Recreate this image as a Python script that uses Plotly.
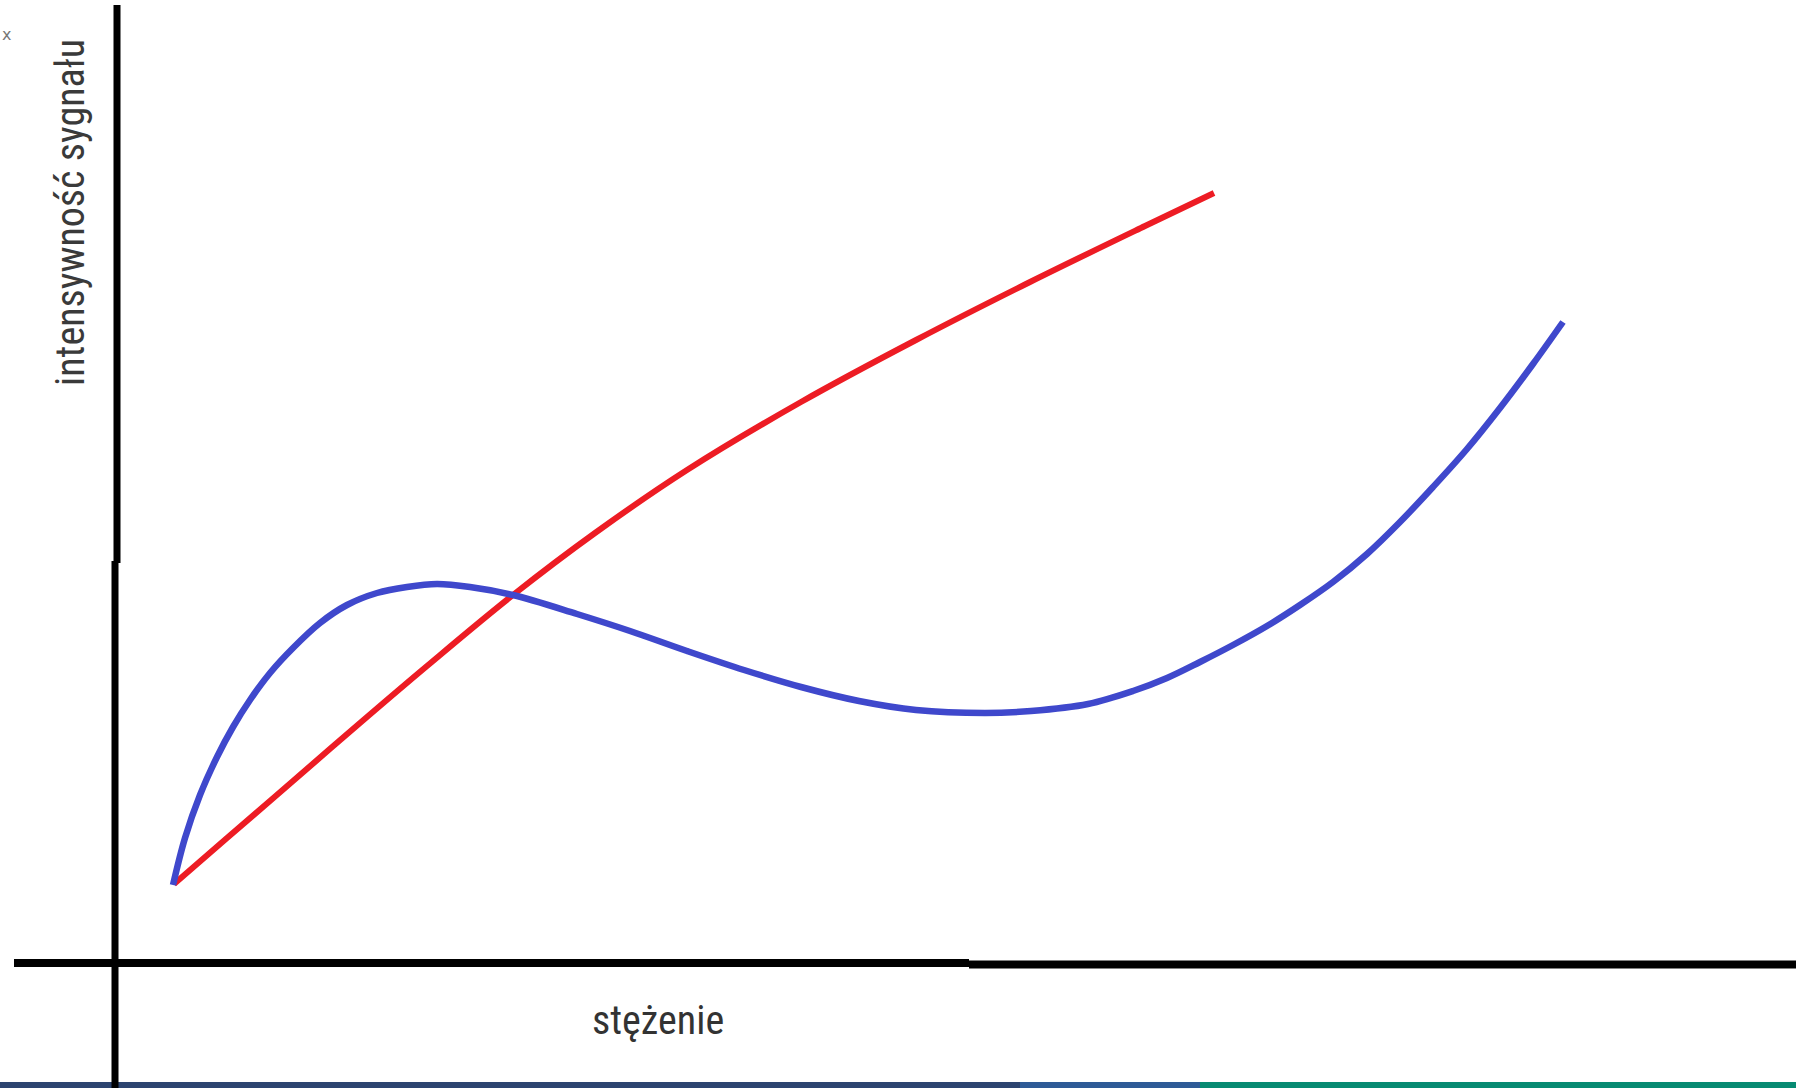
import plotly.graph_objects as go

# Data (arbitrary units: concentration, signal intensity)
red_x = [58, 111, 177, 244, 311, 397, 479, 571, 685, 800, 914, 1029, 1098]
red_y = [79, 125, 182, 240, 297, 368, 430, 493, 561, 623, 681, 737, 770]

blue_x = [57, 69, 84, 101, 117, 134, 154, 177, 204, 231, 261, 291, 321, 354, 397,
          461, 514, 571, 628, 685, 743, 800, 869, 915, 972, 1017, 1051, 1084, 1117,
          1151, 1184, 1217, 1251, 1284, 1317, 1351, 1384, 1417, 1447]
blue_y = [78, 125, 168, 206, 236, 263, 290, 315, 340, 358, 370, 376, 379, 376, 368,
          349, 332, 312, 293, 276, 262, 253, 250, 252, 259, 272, 285, 301, 318,
          337, 358, 381, 409, 441, 476, 514, 555, 599, 641]

x_label = "stężenie"
y_label = "intensywność sygnału"

RED = "#ED1C24"
BLUE = "#3F48CC"

fig = go.Figure()
fig.add_trace(go.Scatter(x=red_x, y=red_y, mode="lines",
                         line=dict(color=RED, width=6, shape="spline", smoothing=1.0),
                         hoverinfo="skip", showlegend=False))
fig.add_trace(go.Scatter(x=blue_x, y=blue_y, mode="lines",
                         line=dict(color=BLUE, width=6.5, shape="spline", smoothing=1.0),
                         hoverinfo="skip", showlegend=False))

shapes = []
# bottom colour band
band = [(0, 1020, "#2c4470"), (1020, 1200, "#2e5a96"), (1200, 1796, "#078a72")]
for x0, x1, c in band:
    shapes.append(dict(type="rect", xref="paper", yref="paper",
                       x0=x0 / 1796, x1=x1 / 1796, y0=0, y1=6 / 1088,
                       fillcolor=c, line=dict(width=0), layer="below"))
# hand-drawn axes
shapes += [
    dict(type="line", xref="x", yref="y", x0=1, x1=1, y0=958, y1=400,
         line=dict(color="black", width=7)),
    dict(type="line", xref="x", yref="y", x0=-1, x1=-1, y0=402, y1=-130,
         line=dict(color="black", width=7)),
    dict(type="line", xref="x", yref="y", x0=-102, x1=853, y0=0, y1=0,
         line=dict(color="black", width=8)),
    dict(type="line", xref="x", yref="y", x0=853, x1=1690, y0=-1.5, y1=-1.5,
         line=dict(color="black", width=8)),
]

label_font = ("Roboto Condensed, Noto Sans Condensed, Open Sans Condensed, "
              "DejaVu Sans Condensed, Liberation Sans Narrow, Roboto, sans-serif")
annotations = [
    dict(x=-46, y=750, xref="x", yref="y", text=y_label, textangle=-90,
         showarrow=False, font=dict(family=label_font, size=40, color="#3a3a3a")),
    dict(x=542, y=-57, xref="x", yref="y", text=x_label,
         showarrow=False, font=dict(family=label_font, size=40, color="#333333")),
    dict(x=-116, y=929, xref="x", yref="y", text="x", xanchor="left",
         showarrow=False, font=dict(family="DejaVu Sans", size=16, color="#777777")),
]

fig.update_layout(
    width=1796, height=1088,
    margin=dict(l=0, r=0, t=0, b=0),
    paper_bgcolor="white", plot_bgcolor="white",
    xaxis=dict(range=[-116, 1680], visible=False, fixedrange=True),
    yaxis=dict(range=[-125, 963], visible=False, fixedrange=True),
    shapes=shapes, annotations=annotations,
    showlegend=False,
)

fig.write_html("out.html", config={"displayModeBar": False},
               post_script="document.body.style.margin='0';document.body.style.overflow='hidden';")
